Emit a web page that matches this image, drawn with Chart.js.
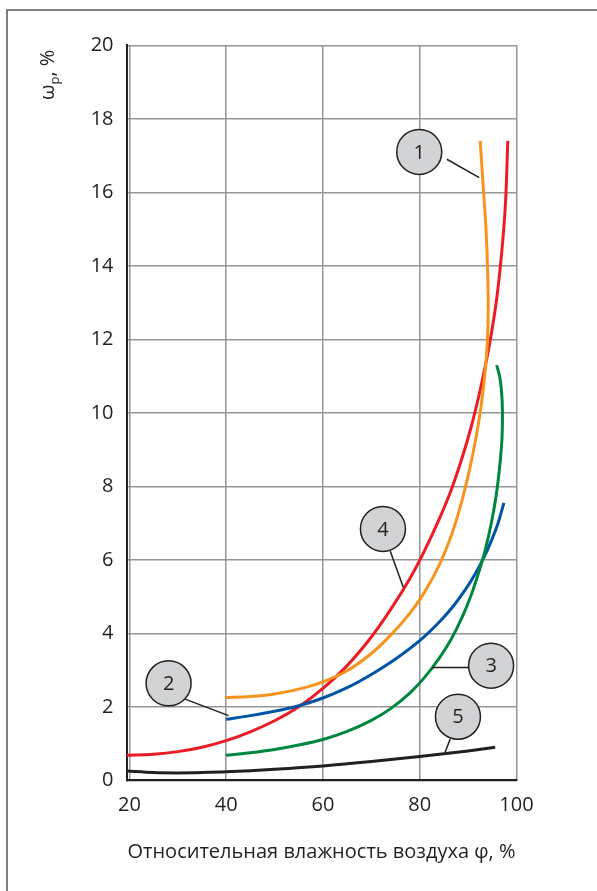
<!DOCTYPE html>
<html>
<head>
<meta charset="utf-8">
<title>Влажность</title>
<script src="https://cdn.jsdelivr.net/npm/chart.js@4.4.0/dist/chart.umd.min.js"></script>
<style>
  html, body { margin: 0; padding: 0; background: #fff; }
  #wrap { width: 597px; height: 891px; }
</style>
</head>
<body>
<div id="wrap"><canvas id="humidity-chart" width="597" height="891"></canvas></div>
<script>
// axis ticks
const xTicks = [20, 40, 60, 80, 100];
const yTicks = [0, 2, 4, 6, 8, 10, 12, 14, 16, 18, 20];

// curves, [phi %, omega_p %]
const curveOrange = [
    [39.8, 2.25], [45, 2.28], [50, 2.35], [55, 2.48], [60, 2.68], [65, 2.98], [70, 3.45],
    [74, 3.95], [78, 4.55], [81, 5.12], [84, 5.85], [86.5, 6.65], [88.5, 7.5], [90.2, 8.4],
    [91.6, 9.3], [92.7, 10.2], [93.5, 11.1], [94.0, 12.0], [94.15, 13.0], [94.0, 14.0],
    [93.7, 15.0], [93.2, 16.0], [92.5, 17.4]
];
const curveRed = [
    [19.4, 0.68], [25, 0.71], [30, 0.78], [35, 0.9], [40, 1.08], [45, 1.32], [50, 1.62],
    [55, 2.0], [60, 2.5], [65, 3.12], [70, 3.9], [74, 4.65], [78, 5.5], [81, 6.25],
    [84, 7.1], [86.5, 7.9], [88.7, 8.75], [90.6, 9.6], [92.2, 10.45], [93.6, 11.3],
    [94.8, 12.15], [95.8, 13.0], [96.6, 13.9], [97.3, 14.9], [97.8, 15.9], [98.2, 17.4]
];
const curveBlue = [
    [40, 1.66], [45, 1.76], [50, 1.88], [55, 2.03], [60, 2.24], [65, 2.52], [70, 2.88],
    [75, 3.3], [80, 3.8], [84, 4.3], [87, 4.75], [89.5, 5.2], [91.6, 5.65], [93.4, 6.1],
    [94.9, 6.55], [96.2, 7.0], [97.4, 7.55]
];
const curveGreen = [
    [40, 0.68], [45, 0.75], [50, 0.84], [55, 0.96], [60, 1.11], [65, 1.33], [70, 1.63],
    [74, 1.95], [78, 2.38], [81, 2.8], [84, 3.32], [86.5, 3.84], [88.7, 4.42], [90.6, 5.03],
    [92.2, 5.66], [93.6, 6.3], [94.8, 7.0], [95.8, 7.75], [96.5, 8.5], [97.0, 9.3],
    [97.1, 10.0], [96.9, 10.6], [96.5, 11.0], [95.9, 11.3]
];
const curveBlack = [
    [19.4, 0.25], [25, 0.21], [30, 0.2], [35, 0.21], [40, 0.23], [50, 0.3], [60, 0.39],
    [70, 0.51], [80, 0.65], [90, 0.8], [95.6, 0.9]
];

// numbered callouts: label, circle centre, leader line (data units)
const calloutLabels = ['1', '2', '3', '4', '5'];
const calloutCenters = [[79.9, 17.1], [28.1, 2.64], [94.75, 3.12], [72.4, 6.84], [87.9, 1.73]];
const calloutLeaders = [
    [[85.6, 16.9], [92.3, 16.4]],
    [[31.5, 2.21], [40.5, 1.76]],
    [[90.1, 3.07], [82.6, 3.07]],
    [[73.9, 6.24], [76.6, 5.25]],
    [[86.3, 1.12], [85.2, 0.75]]
];

const ink = '#231f20';
const gridGray = '#939598';
const fontFamily = '"Open Sans", "Noto Sans", sans-serif';

function toPoints(arr) {
    return arr.map(p => ({ x: p[0], y: p[1] }));
}

function lineSet(label, data, color) {
    return {
        label: label,
        data: toPoints(data),
        showLine: true,
        borderColor: color,
        backgroundColor: color,
        borderWidth: 3,
        pointRadius: 0,
        tension: 0.3,
        fill: false
    };
}

// outer frame (only top and left edges visible in the picture)
const framePlugin = {
    id: 'frame',
    beforeDraw(chart) {
        const ctx = chart.ctx;
        ctx.save();
        ctx.strokeStyle = '#555';
        ctx.lineWidth = 1.5;
        ctx.beginPath();
        ctx.moveTo(7, chart.height);
        ctx.lineTo(7, 10);
        ctx.lineTo(chart.width, 10);
        ctx.stroke();
        ctx.restore();
    }
};

// y title with subscript p
const yTitlePlugin = {
    id: 'yTitle',
    afterDraw(chart) {
        const ctx = chart.ctx;
        ctx.save();
        ctx.translate(54, 100);
        ctx.rotate(-Math.PI / 2);
        ctx.fillStyle = ink;
        ctx.textBaseline = 'alphabetic';
        ctx.textAlign = 'left';
        ctx.font = '20px ' + fontFamily;
        ctx.fillText('ω', 0, 0);
        let w = ctx.measureText('ω').width;
        ctx.font = '13px ' + fontFamily;
        ctx.fillText('p', w, 5);
        w += ctx.measureText('p').width;
        ctx.font = '20px ' + fontFamily;
        ctx.fillText(', %', w, 0);
        ctx.restore();
    }
};

const calloutPlugin = {
    id: 'callouts',
    afterDatasetsDraw(chart) {
        const ctx = chart.ctx;
        const xs = chart.scales.x;
        const ys = chart.scales.y;
        ctx.save();
        calloutLabels.forEach((lbl, i) => {
            const lead = calloutLeaders[i];
            ctx.strokeStyle = ink;
            ctx.lineWidth = 1.5;
            ctx.beginPath();
            ctx.moveTo(xs.getPixelForValue(lead[0][0]), ys.getPixelForValue(lead[0][1]));
            ctx.lineTo(xs.getPixelForValue(lead[1][0]), ys.getPixelForValue(lead[1][1]));
            ctx.stroke();

            const cx = xs.getPixelForValue(calloutCenters[i][0]);
            const cy = ys.getPixelForValue(calloutCenters[i][1]);
            ctx.beginPath();
            ctx.arc(cx, cy, 22.5, 0, Math.PI * 2);
            ctx.fillStyle = '#d1d3d4';
            ctx.fill();
            ctx.stroke();

            ctx.fillStyle = ink;
            ctx.font = '20px ' + fontFamily;
            ctx.textAlign = 'center';
            ctx.textBaseline = 'middle';
            ctx.fillText(lbl, cx, cy + 1);
        });
        ctx.restore();
    }
};

const ctx = document.getElementById('humidity-chart').getContext('2d');
new Chart(ctx, {
    type: 'scatter',
    data: {
        datasets: [
            lineSet('5', curveBlack, ink),
            lineSet('3', curveGreen, '#00873f'),
            lineSet('2', curveBlue, '#0054a6'),
            lineSet('1', curveOrange, '#f7941d'),
            lineSet('4', curveRed, '#ed1c24')
        ]
    },
    options: {
        responsive: false,
        animation: false,
        devicePixelRatio: 1,
        layout: { padding: { left: 0, right: 80.5, top: 45.3, bottom: 0 } },
        plugins: {
            legend: { display: false },
            tooltip: { enabled: false }
        },
        scales: {
            x: {
                type: 'linear',
                min: 19.4,
                max: 100,
                afterBuildTicks: s => { s.ticks = xTicks.map(v => ({ value: v })); },
                afterFit: s => { s.height = 110.7; },
                grid: { color: gridGray, lineWidth: 1.5, drawTicks: false },
                border: { color: ink, width: 2 },
                ticks: {
                    color: ink,
                    padding: 13,
                    maxRotation: 0,
                    font: { family: fontFamily, size: 20 }
                },
                title: {
                    display: true,
                    text: 'Относительная влажность воздуха φ, %',
                    color: ink,
                    font: { family: fontFamily, size: 20 },
                    padding: { top: 0, bottom: 27 }
                }
            },
            y: {
                type: 'linear',
                min: 0,
                max: 20,
                afterBuildTicks: s => { s.ticks = yTicks.map(v => ({ value: v })); },
                afterFit: s => { s.width = 126.5; },
                grid: { color: gridGray, lineWidth: 1.5, drawTicks: false },
                border: { color: ink, width: 2 },
                ticks: {
                    color: ink,
                    padding: 13,
                    font: { family: fontFamily, size: 20 }
                }
            }
        }
    },
    plugins: [framePlugin, calloutPlugin, yTitlePlugin]
});
</script>
</body>
</html>
